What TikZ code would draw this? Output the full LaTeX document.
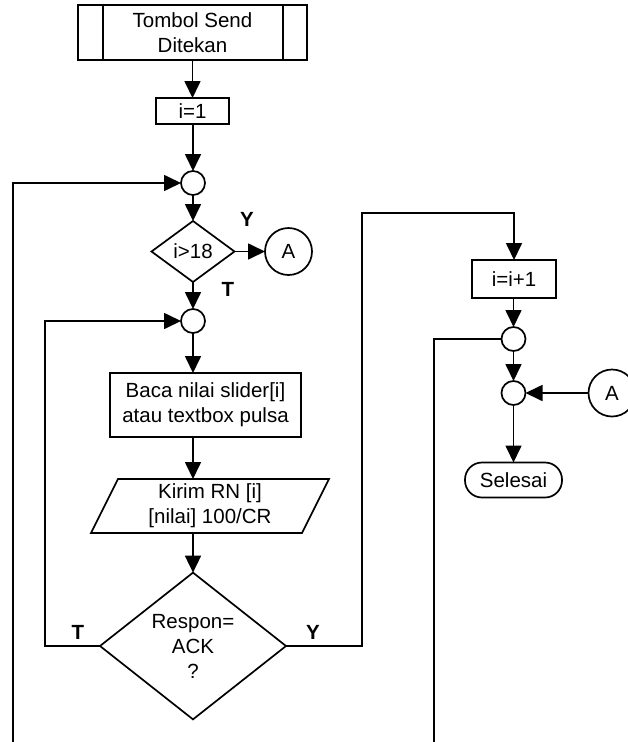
\documentclass[tikz,border=0pt]{standalone}
\usepackage{fontspec}
\setmainfont{Liberation Sans}
\usetikzlibrary{arrows.meta,shapes.geometric,calc}
\begin{document}
\begin{tikzpicture}[x=1pt,y=-1pt,
  font=\fontsize{20.5}{25}\selectfont,
  line width=1.7pt,
  box/.style={draw,rectangle,inner sep=0pt,outer sep=0pt,align=center},
  conn/.style={draw,circle,inner sep=0pt,outer sep=0pt,minimum size=24pt},
  offp/.style={draw,circle,inner sep=0pt,outer sep=0pt,minimum size=47pt},
  dec/.style={draw,diamond,inner sep=0pt,outer sep=0pt,align=center},
  term/.style={draw,rectangle,rounded corners=17pt,inner sep=0pt,outer sep=0pt},
  lbl/.style={font=\fontsize{20.5}{25}\selectfont\bfseries,inner sep=0pt},
  arr/.style={-{Triangle[length=17pt,width=16pt]}}
]
\useasboundingbox (0,0) rectangle (628,742);

% nodes
\node[box,minimum width=229pt,minimum height=55pt] (tombol) at (192.5,32.5) {Tombol Send\\Ditekan};
\draw ([xshift=25pt]tombol.north west) -- ([xshift=25pt]tombol.south west);
\draw ([xshift=-24pt]tombol.north east) -- ([xshift=-24pt]tombol.south east);

\node[box,minimum width=73pt,minimum height=26pt] (i1) at (192.5,111) {i=1};
\node[conn] (c1) at (193,183) {};
\node[dec,minimum width=83pt,minimum height=61pt] (d1) at (193,251.5) {i>18};
\node[offp] (A1) at (288.5,251.5) {A};
\node[conn] (c2) at (193,321) {};
\node[box,minimum width=191pt,minimum height=64pt] (baca) at (205.5,405) {Baca nilai slider[i]\\atau textbox pulsa};
\node[inner sep=0pt,outer sep=0pt,minimum width=238pt,minimum height=54pt,align=center] (kirim) at (210,506) {Kirim RN [i]\\{}[nilai] 100/CR};
\draw (kirim.north east) -- ([xshift=-27pt]kirim.south east) -- (kirim.south west) -- ([xshift=27pt]kirim.north west) -- cycle;
\node[dec,minimum width=186pt,minimum height=138pt] (d2) at (193,646) {Respon=\\ACK\\?};

\node[box,minimum width=84pt,minimum height=38pt] (inc) at (514,279) {i=i+1};
\node[conn] (c3) at (513.5,339) {};
\node[conn] (c4) at (513.5,393) {};
\node[offp] (A2) at (612,393) {A};
\node[term,minimum width=97pt,minimum height=35pt] (sel) at (513.5,480) {Selesai};

% labels
\node[lbl] (ly1) at (247,219) {Y};
\node[lbl] (lt1) at (228,289) {T};
\node[lbl] (lt2) at (78,632) {T};
\node[lbl] (ly2) at (313,632) {Y};

% free-end coordinates
\coordinate (l1b) at (13,742);
\coordinate (l2) at (45,321);
\coordinate (r1) at (362,213);
\coordinate (r3b) at (434,742);

% connectors
\draw[arr] (tombol.south -| i1) -- (i1.north);
\draw[arr] (i1.south -| c1) -- (c1.north);
\draw[arr] (c1.south) -- (d1.north);
\draw[arr] (d1.east) -- (A1.west);
\draw[arr] (d1.south) -- (c2.north);
\draw[arr] (c2.south) -- (c2.south |- baca.north);
\draw[arr] (baca.south -| c2) -- (c2 |- kirim.north);
\draw[arr] (kirim.south -| c2) -- (d2.north);
\draw[arr] (l1b) |- (c1.west);
\draw[arr] (d2.west) -| (l2) -- (c2.west);
\draw[arr] (d2.east) -| (r1) -| (inc.north);
\draw[arr] (inc.south -| c3) -- (c3.north);
\draw (c3.west) -| (r3b);
\draw[arr] (c3.south) -- (c4.north);
\draw[arr] (A2.west) -- (c4.east);
\draw[arr] (c4.south) -- (sel.north);
\end{tikzpicture}
\end{document}
